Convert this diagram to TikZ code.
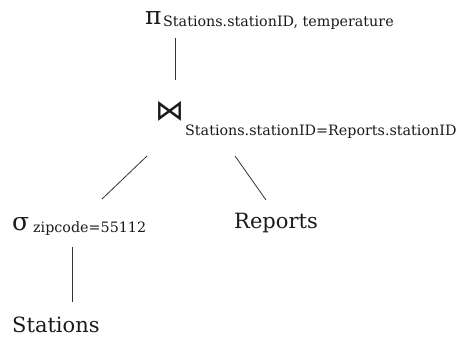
\documentclass[tikz,border=0pt]{standalone}
\usepackage{fontspec}
\setmainfont{DejaVu Serif}
\newfontfamily\symfont{DejaVu Sans}
\definecolor{mInk}{HTML}{1A1A1A}
\definecolor{mLine}{HTML}{333333}
\usetikzlibrary{positioning}

\begin{document}
\begin{tikzpicture}[x=1pt, y=-1pt,
  op/.style={inner sep=0pt, anchor=base west, text=mInk, font=\fontsize{25}{25}\selectfont},
  sub/.style={inner sep=0pt, anchor=base west, text=mInk, font=\fontsize{14.3}{15}\selectfont},
  rel/.style={inner sep=0pt, anchor=base west, text=mInk, font=\fontsize{21}{22}\selectfont},
  edge/.style={mLine, line width=0.8pt}]
\useasboundingbox (0,0) rectangle (457,341);
% projection
\node[op] (pi) at (145,24) {π};
\node[sub] (pisub) at (163,26) {Stations.stationID, temperature};
% join
\node[op, font=\symfont\fontsize{29}{29}\selectfont] (join) at (155,120) {⋈};
\node[sub] (joinsub) at (185,135) {Stations.stationID=Reports.stationID};
% selection
\node[op] (sigma) at (12,230) {σ};
\node[sub] (sigmasub) at (33,232) {zipcode=55112};
% relations
\node[rel] (reports) at (234,228) {Reports};
\node[rel] (stations) at (12,332) {Stations};
% edges
\draw[edge] ([shift={(30,14)}]pi.base west) -- ([shift={(20,-40)}]join.base west);
\draw[edge] ([shift={(-8,36)}]join.base west) -- ([shift={(69,-33)}]sigmasub.base west);
\draw[edge] ([shift={(80,36)}]join.base west) -- ([shift={(32,-28)}]reports.base west);
\draw[edge] ([shift={(39,15)}]sigmasub.base west) -- ([shift={(60,-30)}]stations.base west);
\end{tikzpicture}
\end{document}
